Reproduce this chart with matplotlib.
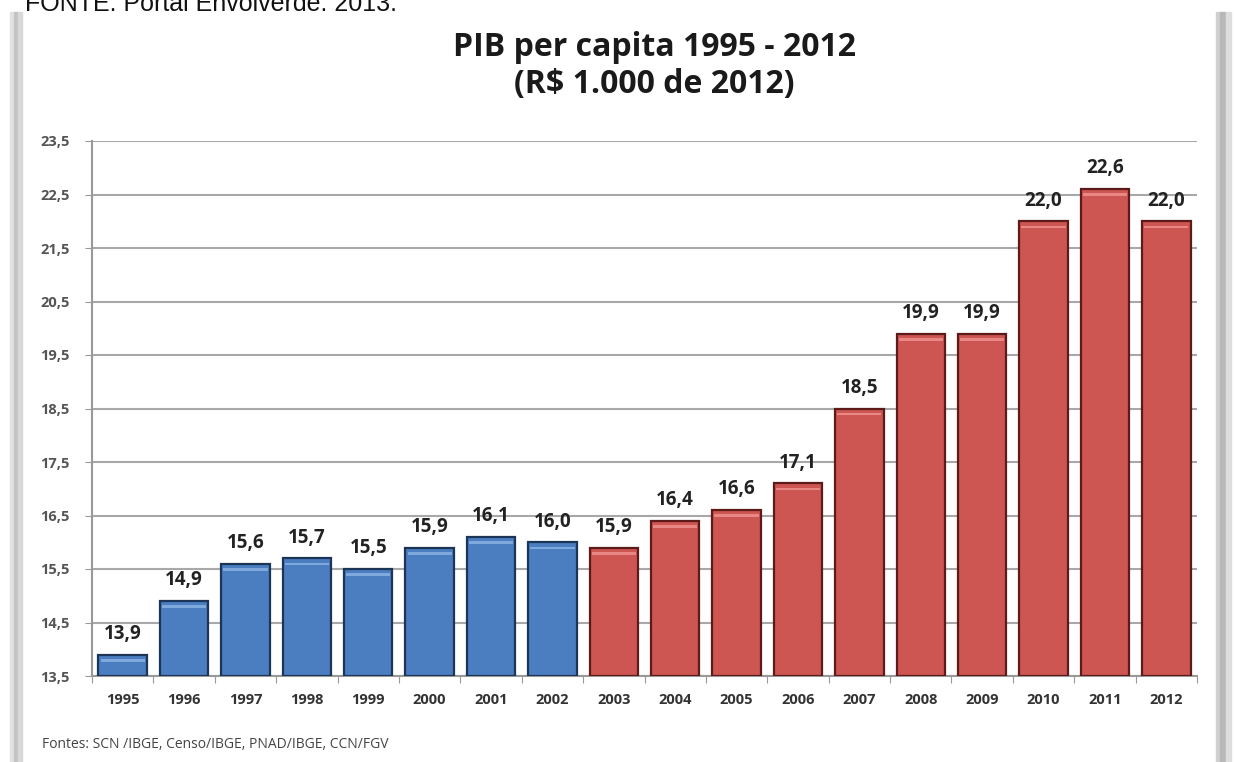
import matplotlib.pyplot as plt
from matplotlib.patches import Rectangle

# Data
years = ['1995', '1996', '1997', '1998', '1999', '2000', '2001', '2002', '2003',
         '2004', '2005', '2006', '2007', '2008', '2009', '2010', '2011', '2012']
pib = [13.9, 14.9, 15.6, 15.7, 15.5, 15.9, 16.1, 16.0, 15.9,
       16.4, 16.6, 17.1, 18.5, 19.9, 19.9, 22.0, 22.6, 22.0]
n_blue = 8  # 1995-2002 in blue, 2003-2012 in red
y_ticks = [13.5, 14.5, 15.5, 16.5, 17.5, 18.5, 19.5, 20.5, 21.5, 22.5, 23.5]

blue, blue_edge, blue_hi = '#4A7EC0', '#1C3557', '#7FA9DD'
red, red_edge, red_hi = '#CD5552', '#5C1B19', '#E88784'

fig = plt.figure(figsize=(12.35, 7.62), dpi=100)
fig.patch.set_facecolor('white')

# gray shadow edges of the pasted panel
for x0, w, c in [(10, 4, '#E2E2E2'), (14, 4, '#C4C4C4'), (18, 4, '#D8D8D8'),
                 (1216, 4, '#D0D0D0'), (1220, 6, '#B8B8B8'), (1226, 5, '#DDDDDD')]:
    fig.patches.append(Rectangle((x0 / 1235, 0), w / 1235, 1 - 12 / 762,
                                 transform=fig.transFigure, color=c, zorder=0))

ax = fig.add_axes([92 / 1235, 1 - 676 / 762, (1197 - 92) / 1235, (676 - 141) / 762])

x = range(len(years))
colors = [blue if i < n_blue else red for i in x]
edges = [blue_edge if i < n_blue else red_edge for i in x]
highs = [blue_hi if i < n_blue else red_hi for i in x]
ax.bar(x, [v - 13.5 for v in pib], bottom=13.5, width=0.79,
       color=colors, edgecolor=edges, linewidth=1.6, zorder=3)
# light glossy strip just under the top of each bar
ax.bar(x, 0.05, bottom=[v - 0.13 for v in pib], width=0.72,
       color=highs, linewidth=0, zorder=4)

for i, v in enumerate(pib):
    ax.text(i, v + 0.2, f'{v:.1f}'.replace('.', ','), ha='center', va='bottom',
            fontsize=13.5, fontweight='bold', color='#222222', family='Open Sans')

ax.set_xlim(-0.5, len(years) - 0.5)
ax.set_ylim(13.5, 23.5)
ax.set_yticks(y_ticks)
ax.set_yticklabels([f'{t:.1f}'.replace('.', ',') for t in y_ticks],
                   fontsize=10.5, fontweight='bold', color='#555555', family='Open Sans')
ax.set_xticks([i - 0.5 for i in range(len(years) + 1)])
ax.set_xticklabels([])
ax.set_xticks(list(x), minor=True)
ax.set_xticklabels(years, minor=True, fontsize=10.5, fontweight='bold',
                   color='#333333', family='Open Sans')
ax.tick_params(axis='x', which='major', length=5, color='#999999')
ax.tick_params(axis='x', which='minor', length=0, pad=12)
ax.tick_params(axis='y', length=5, color='#999999', pad=11)

ax.grid(axis='y', color='#A8A8A8', linewidth=1.5, zorder=0)
for s in ['top', 'right']:
    ax.spines[s].set_visible(False)
for s in ['left', 'bottom']:
    ax.spines[s].set_color('#999999')
    ax.spines[s].set_linewidth(1.5)

fig.text(0.53, 1 - 48 / 762, 'PIB per capita 1995 - 2012', ha='center', va='center',
         fontsize=23, fontweight='bold', color='#1a1a1a', family='Open Sans')
fig.text(0.53, 1 - 85 / 762, '(R$ 1.000 de 2012)', ha='center', va='center',
         fontsize=23, fontweight='bold', color='#1a1a1a', family='Open Sans')

fig.text(42 / 1235, 1 - 745 / 762, 'Fontes: SCN /IBGE, Censo/IBGE, PNAD/IBGE, CCN/FGV',
         ha='left', va='center', fontsize=10, color='#444444', family='Open Sans')

# caption cut off at the top edge of the image (as in the original)
fig.text(25 / 1235, 1 - 11 / 762, 'FONTE: Portal Envolverde. 2013.', ha='left',
         va='baseline', fontsize=18, color='#111111', family='Liberation Sans')

fig.savefig('out.png', dpi=100)
